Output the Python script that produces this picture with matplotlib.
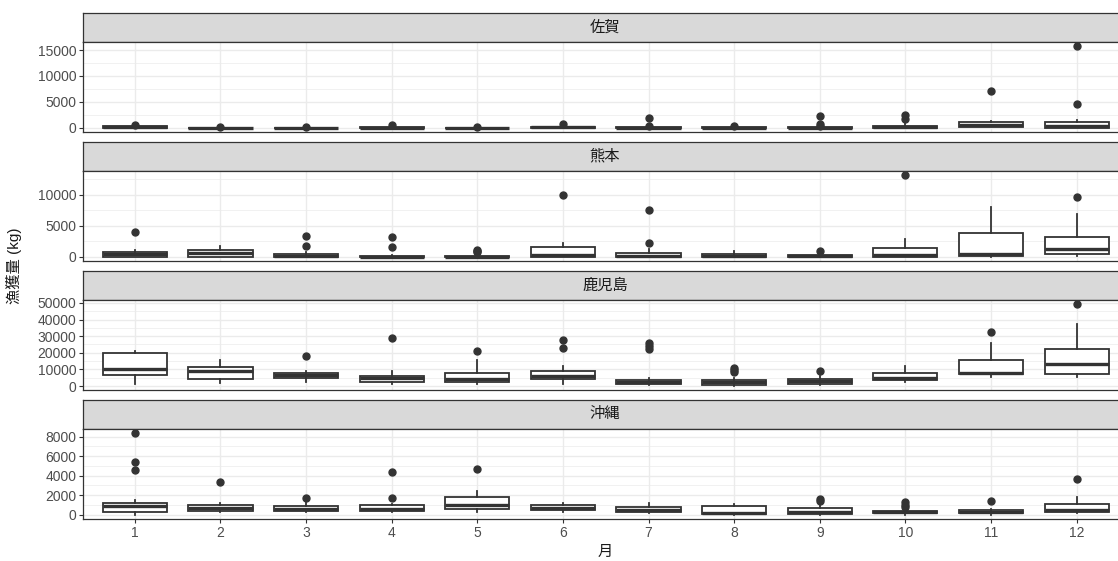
import matplotlib
matplotlib.use("Agg")
import matplotlib.pyplot as plt
from matplotlib.ticker import MultipleLocator, AutoMinorLocator

plt.rcParams['font.family'] = ['Liberation Sans', 'Noto Sans CJK JP', 'DejaVu Sans']

months = [1, 2, 3, 4, 5, 6, 7, 8, 9, 10, 11, 12]
prefectures = ['佐賀', '熊本', '鹿児島', '沖縄']

# box stats per month: [whislo, q1, median, q3, whishi]
saga_box = [[0, 50, 150, 300, 350], [0, 10, 30, 60, 120], [0, 10, 40, 80, 150],
            [0, 20, 60, 120, 200], [0, 10, 40, 80, 150], [0, 40, 120, 250, 450],
            [0, 20, 60, 150, 300], [0, 10, 40, 100, 200], [0, 20, 60, 150, 300],
            [0, 60, 200, 450, 900], [100, 190, 600, 1200, 1400], [0, 50, 300, 1080, 1600]]
saga_out = [[500], [200], [250], [500], [200], [750], [1900, 400], [350],
            [2300, 700, 450], [2400, 1800], [7200], [15700, 4600]]

kumamoto_box = [[0, 20, 500, 850, 1180], [0, 30, 650, 1070, 1800], [0, 20, 200, 480, 700],
                [0, 10, 50, 150, 250], [0, 10, 50, 150, 300], [0, 30, 270, 1600, 2150],
                [0, 20, 200, 640, 1280], [0, 10, 100, 430, 900], [0, 10, 60, 270, 450],
                [0, 20, 320, 1500, 2950], [0, 100, 530, 3900, 8070], [160, 480, 1280, 3210, 6900]]
kumamoto_out = [[4000], [], [3400, 1800], [3200, 1550], [1150, 950, 800], [9950],
                [7550, 2300], [], [900], [13150], [], [9570]]

kagoshima_box = [[1380, 6520, 10470, 19960, 21340], [1780, 3950, 9090, 11460, 15810],
                 [2370, 4740, 6720, 7900, 9290], [1380, 2170, 4740, 6130, 9290],
                 [1380, 2170, 4350, 8100, 15810], [990, 3950, 6320, 9290, 11860],
                 [800, 1190, 2370, 3560, 5000], [200, 600, 2170, 3560, 5000],
                 [900, 1380, 2770, 4150, 6320], [2570, 3360, 4550, 7710, 12250],
                 [5340, 7110, 7900, 15610, 25690], [5730, 7110, 13240, 22530, 37550]]
kagoshima_out = [[], [], [18180], [28660], [21150], [27670, 23120], [25690, 24100, 22130],
                 [10670, 9490, 8300], [9290], [], [32210], [49210]]

okinawa_box = [[0, 270, 840, 1240, 1480], [300, 400, 710, 940, 1180], [270, 370, 600, 870, 1310],
               [240, 340, 570, 940, 1140], [300, 540, 970, 1850, 2420], [300, 470, 710, 940, 1210],
               [130, 240, 470, 770, 1180], [0, 70, 200, 840, 1080], [0, 70, 270, 670, 940],
               [0, 130, 240, 400, 600], [0, 130, 300, 470, 600], [130, 270, 500, 1110, 1780]]
okinawa_out = [[8370, 5380, 4540], [3360], [1680], [4400, 1710], [4640], [], [], [],
               [1580, 1380], [1280, 940, 740], [1410], [3700]]

y_steps = [5000, 5000, 10000, 2000]
all_box = [saga_box, kumamoto_box, kagoshima_box, okinawa_box]
all_out = [saga_out, kumamoto_out, kagoshima_out, okinawa_out]

W, H = 1118, 561
fig = plt.figure(figsize=(W / 100, H / 100), dpi=100)

# panels run past the right edge, as in the cropped original
left_px, right_px = 83.4, 1128
top0, period, strip_h, panel_h = 13, 128.9, 29.3, 89.7
dark = '#333333'

for i, name in enumerate(prefectures):
    strip_top = top0 + i * period
    panel_top = strip_top + strip_h
    # strip
    sax = fig.add_axes([left_px / W, 1 - panel_top / H, (right_px - left_px) / W, strip_h / H])
    sax.set_facecolor('#D9D9D9')
    sax.set_xticks([])
    sax.set_yticks([])
    for sp in sax.spines.values():
        sp.set_color(dark)
        sp.set_linewidth(0.9)
    sax.text((605 - left_px) / (right_px - left_px), 0.5, name,
             transform=sax.transAxes, ha='center', va='center', fontsize=11, color='#1A1A1A')

    ax = fig.add_axes([left_px / W, 1 - (panel_top + panel_h) / H,
                       (right_px - left_px) / W, panel_h / H])
    stats = []
    for m, b, o in zip(months, all_box[i], all_out[i]):
        stats.append(dict(whislo=b[0], q1=b[1], med=b[2], q3=b[3], whishi=b[4],
                          fliers=o, label=str(m)))
    ax.bxp(stats, positions=months, widths=0.75, showcaps=False, patch_artist=True,
           boxprops=dict(facecolor='white', edgecolor=dark, linewidth=1.3),
           medianprops=dict(color=dark, linewidth=2.4),
           whiskerprops=dict(color=dark, linewidth=1.3),
           flierprops=dict(marker='o', markerfacecolor=dark, markeredgecolor=dark,
                           markersize=5.0))
    vals = [v for b in all_box[i] for v in b] + [v for o in all_out[i] for v in o]
    lo, hi = min(vals), max(vals)
    pad = 0.05 * (hi - lo)
    ax.set_ylim(lo - pad, hi + pad)
    ax.set_xlim(0.4, 12.6)
    ax.yaxis.set_major_locator(MultipleLocator(y_steps[i]))
    ax.yaxis.set_minor_locator(AutoMinorLocator(2))
    ax.grid(True, which='major', color='#EBEBEB', linewidth=1.0)
    ax.grid(True, which='minor', axis='y', color='#EBEBEB', linewidth=0.5)
    ax.set_axisbelow(True)
    for sp in ax.spines.values():
        sp.set_color(dark)
        sp.set_linewidth(0.9)
    ax.tick_params(axis='both', which='major', length=3, width=0.8, color=dark,
                   labelsize=10, labelcolor='#4D4D4D', pad=2)
    ax.tick_params(axis='y', which='minor', length=0)
    ax.set_xticks(months)
    if i < 3:
        ax.set_xticklabels([])
        ax.tick_params(axis='x', length=0)
    else:
        ax.set_xticklabels([str(m) for m in months])

fig.text(14 / W, 1 - 266 / H, '漁獲量 (kg)', rotation=90, ha='center', va='center',
         fontsize=11, color='#1A1A1A')
fig.text(605 / W, 1 - 552 / H, '月', ha='center', va='center', fontsize=11, color='#1A1A1A')

fig.savefig('out.png', dpi=100, facecolor='white')
